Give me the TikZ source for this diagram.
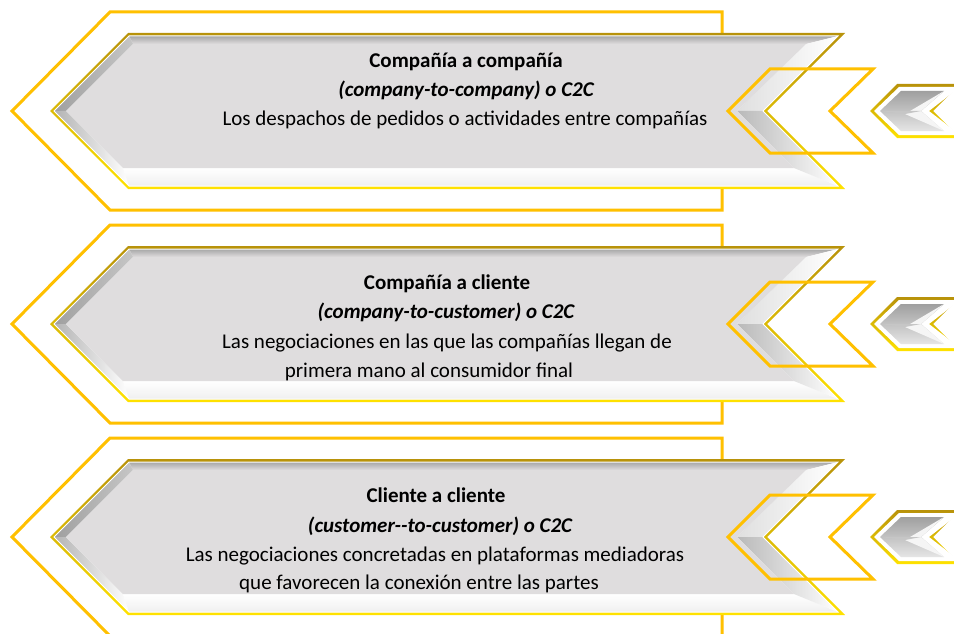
\documentclass[tikz,border=0pt]{standalone}
\usepackage{fontspec}
\setmainfont{Carlito}
\definecolor{gold}{HTML}{FFC000}
\definecolor{goldA}{HTML}{B8920A}
\definecolor{goldB}{HTML}{FFE200}
\definecolor{face}{HTML}{DFDDDE}
\tikzset{
  goldline/.style={draw=gold, line width=3pt, line join=miter},
  txt/.style={anchor=base, inner sep=0pt, font=\fontsize{21}{25}\selectfont},
  txtb/.style={anchor=base, inner sep=0pt, font=\fontsize{21}{25}\selectfont\bfseries},
  txtbi/.style={anchor=base, inner sep=0pt, font=\fontsize{21}{25}\selectfont\bfseries\itshape},
}
\newcommand\rowshapes{%
  % large gold outline
  \draw[goldline] (722,-99) -- (110,-99) -- (12,0) -- (110,99) -- (722,99) -- cycle;
  % beveled grey arrow
  \shade[top color=goldA, bottom color=goldB] (50,0) -- (128,-78) -- (845,-78) -- (767,0) -- (845,78) -- (128,78) -- cycle;
  \fill[white] (54,0) -- (129,-75) -- (838,-75) -- (763,0) -- (838,75) -- (129,75) -- cycle;
  \shade[top color=gray!70, bottom color=face] (129,-75) -- (838,-75) -- (806,-67) -- (133,-67) -- cycle;
  \shade[left color=gray!75, right color=gray!45] (54,0) -- (129,-75) -- (133,-67) -- (66,0) -- cycle;
  \shade[left color=gray!60, right color=white] (54,0) -- (66,0) -- (123,57) -- (129,75) -- cycle;
  \shade[top color=white, bottom color=gray!12] (123,57) -- (794,57) -- (838,75) -- (129,75) -- cycle;
  \shade[left color=gray!25, right color=white] (806,-67) -- (838,-75) -- (763,0) -- (737,0) -- cycle;
  \shade[left color=gray!55, right color=white] (737,0) -- (763,0) -- (838,75) -- (794,57) -- cycle;
  \fill[face] (66,0) -- (133,-67) -- (806,-67) -- (737,0) -- (794,57) -- (123,57) -- cycle;
  \draw[white, line width=1pt] (54,0) -- (129,-75) -- (838,-75) -- (763,0) -- (838,75) -- (129,75) -- cycle;
  % small hollow gold chevron
  \draw[goldline] (728,0) -- (770,-42) -- (873,-42) -- (830,0) -- (873,42) -- (770,42) -- cycle;
  % small beveled chevron at the right edge
  \shade[top color=goldA, bottom color=goldB] (870,0) -- (897,-27) -- (960,-27) -- (933,0) -- (960,27) -- (897,27) -- cycle;
  \fill[white] (874,0) -- (899,-24) -- (960,-24) -- (929,0) -- (960,24) -- (899,24) -- cycle;
  \shade[top color=gray!75, bottom color=gray!20] (880,0) -- (901,-20) -- (944,-20) -- (921,0) -- (944,20) -- (901,20) -- cycle;
  \fill[white!92!gray] (905,3) -- (944,-20) -- (921,0) -- (944,20) -- cycle;
  \fill[gray!45] (880,0) -- (905,3) -- (921,0) -- cycle;
}
\begin{document}
\begin{tikzpicture}[x=1pt, y=-1pt]
  \clip (0,0) rectangle (954,634);
  \fill[white] (0,0) rectangle (954,634);
  \begin{scope}[yshift=-111pt]\rowshapes\end{scope}
  \begin{scope}[yshift=-324pt]\rowshapes\end{scope}
  \begin{scope}[yshift=-537pt]\rowshapes\end{scope}
  % row 1
  \node[txtb]  (r1a) at (466,68)  {Compañía a compañía};
  \node[txtbi] (r1b) at (466,97)  {(company-to-company) o C2C};
  \node[txt]   (r1c) at (465,125) {Los despachos de pedidos o actividades entre compañías};
  % row 2
  \node[txtb]  (r2a) at (447,289) {Compañía a cliente};
  \node[txtbi] (r2b) at (446,318) {(company-to-customer) o C2C};
  \node[txt]   (r2c) at (447,348) {Las negociaciones en las que las compañías llegan de};
  \node[txt]   (r2d) at (429,377) {primera mano al consumidor final};
  % row 3
  \node[txtb]  (r3a) at (436,502) {Cliente a cliente};
  \node[txtbi] (r3b) at (440,532) {(customer-{}-to-customer) o C2C};
  \node[txt]   (r3c) at (435,561) {Las negociaciones concretadas en plataformas mediadoras};
  \node[txt]   (r3d) at (419,589) {que favorecen la conexión entre las partes};
\end{tikzpicture}
\end{document}
